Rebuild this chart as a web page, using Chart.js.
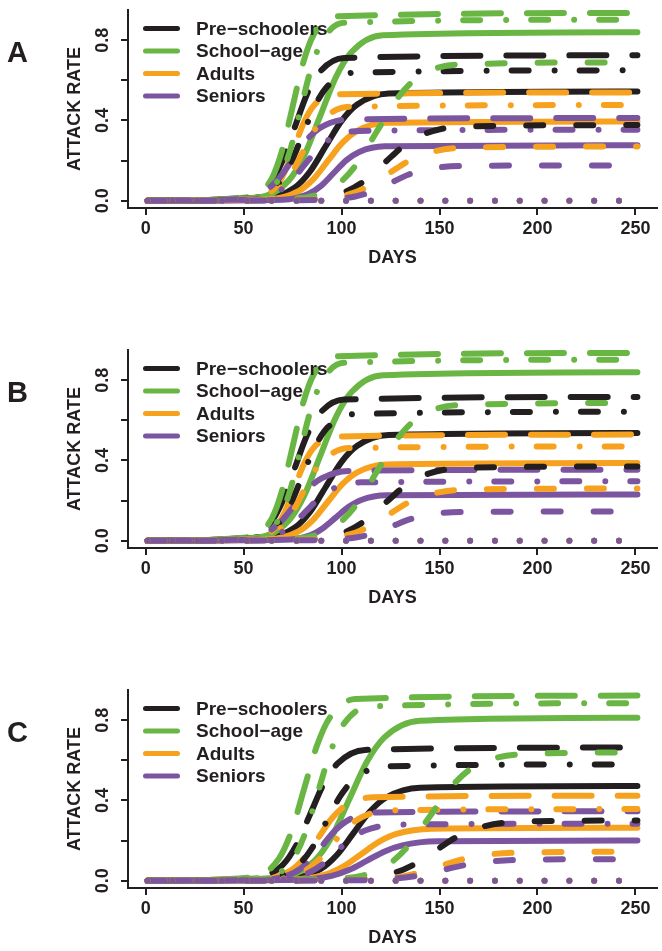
<!DOCTYPE html>
<html>
<head>
<meta charset="utf-8">
<script src="https://cdn.jsdelivr.net/npm/chart.js@4.4.1/dist/chart.umd.min.js"></script>
<style>
  html, body { margin: 0; padding: 0; background: #fff; width: 662px; height: 951px; overflow: hidden; }
  canvas { position: absolute; left: 0; }
</style>
</head>
<body>
<canvas id="panelA" width="662" height="340" style="top:0px"></canvas>
<canvas id="panelB" width="662" height="340" style="top:340px"></canvas>
<canvas id="panelC" width="662" height="340" style="top:680px"></canvas>
<script>
// groups / legend
const groupNames = ['Pre\u2212schoolers', 'School\u2212age', 'Adults', 'Seniors'];
const groupColors = ['#231f20', '#6ab644', '#f7a21e', '#7c55a0'];
const lineStyles = ['solid', 'longdash', 'dotdash', 'dashed', 'dotted'];
const dashPatterns = [[], [37, 26], [0.01, 25, 17, 26], [17, 33], [0.01, 24.8]];

// axes
const xTicks = [0, 50, 100, 150, 200, 250];
const yTicks = [0, 0.2, 0.4, 0.6, 0.8];
const yTickLabels = ['0.0', '', '0.4', '', '0.8'];

// dotted scenario stays at zero
const zeroLine = [[1, 0], [251, 0]];

// ---- panel A  [day, attack rate]
const aPreSolid = [[1,0],[60,.010],[76,.065],[84,.147],[92,.273],[100,.398],[108,.480],[124,.535],[251,.545]];
const aSchSolid = [[1,0],[57,.015],[73,.100],[81,.226],[89,.420],[97,.614],[105,.740],[121,.825],[251,.84]];
const aAduSolid = [[1,0],[63,.007],[78,.047],[85.5,.106],[93,.198],[100.5,.289],[108,.348],[123,.388],[251,.395]];
const aSenSolid = [[1,0],[70,.005],[83,.033],[89.5,.074],[96,.138],[102.5,.202],[109,.243],[122,.271],[251,.276]];
const aPreLong = [[1,0],[51,.013],[63.4,.086],[69.7,.195],[76,.363],[82.3,.530],[88.6,.639],[101.2,.712],[251,.725]];
const aSchLong = [[1,0],[53.8,.017],[64.4,.111],[69.7,.252],[75,.468],[80.3,.684],[85.6,.825],[96.2,.919],[251,.936]];
const aAduLong = [[1,0],[56,.010],[66,.064],[71,.145],[76,.270],[81,.395],[86,.476],[96,.530],[251,.54]];
const aSenLong = [[1,0],[47,.007],[61,.049],[68,.111],[75,.206],[82,.301],[89,.363],[103,.405],[251,.412]];
const aPreDotdash = [[1,0],[54,.012],[67,.077],[73.5,.175],[80,.325],[86.5,.475],[93,.573],[106,.638],[251,.65]];
const aSchDotdash = [[1,0],[57,.016],[68,.107],[73.5,.243],[79,.452],[84.5,.660],[90,.796],[101,.887],[251,.903]];
const aAduDotdash = [[1,0],[56,.009],[68,.057],[74,.128],[80,.239],[86,.349],[92,.420],[104,.468],[251,.477]];
const aSenDotdash = [[1,0],[53,.006],[67,.042],[74,.095],[81,.177],[88,.259],[95,.312],[109,.348],[251,.354]];
const aPreDash = [[1,0],[82,.007],[102,.045],[112,.101],[122,.189],[132,.276],[142,.332],[162,.370],[251,.377]];
const aSchDash = [[1,0],[78,.012],[98,.082],[108,.186],[118,.345],[128,.504],[138,.608],[158,.678],[251,.69]];
const aAduDash = [[1,0],[84,.005],[104,.032],[114,.073],[124,.135],[134,.197],[144,.238],[164,.265],[251,.27]];
const aSenDash = [[1,0],[89,.003],[107,.021],[116,.047],[125,.088],[134,.129],[143,.155],[161,.173],[251,.176]];

// ---- panel B
const bPreSolid = [[1,0],[60,.010],[76,.064],[84,.144],[92,.269],[100,.393],[108,.473],[124,.527],[251,.537]];
const bSchSolid = [[1,0],[57,.015],[73,.100],[81,.226],[89,.420],[97,.614],[105,.740],[121,.825],[251,.84]];
const bAduSolid = [[1,0],[63,.007],[78,.046],[85.5,.104],[93,.194],[100.5,.283],[108,.341],[123,.380],[251,.387]];
const bSenSolid = [[1,0],[71,.004],[84,.027],[90.5,.062],[97,.115],[103.5,.168],[110,.203],[123,.226],[251,.23]];
const bPreLong = [[1,0],[51,.013],[63.4,.085],[69.7,.193],[76,.359],[82.3,.524],[88.6,.632],[101.2,.704],[251,.717]];
const bSchLong = [[1,0],[53.8,.017],[64.4,.111],[69.7,.252],[75,.468],[80.3,.684],[85.6,.825],[96.2,.919],[251,.936]];
const bAduLong = [[1,0],[56,.010],[66,.063],[71,.142],[76,.265],[81,.387],[86,.466],[96,.519],[251,.529]];
const bSenLong = [[1,0],[48,.006],[62,.042],[69,.095],[76,.177],[83,.259],[90,.312],[104,.348],[251,.354]];
const bPreDotdash = [[1,0],[54,.012],[67,.077],[73.5,.173],[80,.322],[86.5,.470],[93,.566],[106,.631],[251,.643]];
const bSchDotdash = [[1,0],[57,.016],[68,.107],[73.5,.243],[79,.452],[84.5,.660],[90,.796],[101,.887],[251,.903]];
const bAduDotdash = [[1,0],[56,.008],[68,.056],[74,.126],[80,.235],[86,.344],[92,.414],[104,.462],[251,.47]];
const bSenDotdash = [[1,0],[54,.005],[68,.035],[75,.080],[82,.148],[89,.216],[96,.261],[110,.291],[251,.296]];
const bPreDash = [[1,0],[82,.007],[102,.044],[112,.100],[122,.185],[132,.270],[142,.326],[162,.363],[251,.37]];
const bSchDash = [[1,0],[78,.012],[98,.082],[108,.185],[118,.344],[128,.502],[138,.605],[158,.675],[251,.687]];
const bAduDash = [[1,0],[84,.005],[104,.031],[114,.070],[124,.130],[134,.190],[144,.229],[164,.255],[251,.26]];
const bSenDash = [[1,0],[90,.003],[108,.017],[117,.039],[126,.073],[135,.107],[144,.129],[162,.143],[251,.146]];

// ---- panel C
const cPreSolid = [[1,0],[72,.008],[89,.056],[97.5,.127],[106,.236],[114.5,.345],[123,.416],[140,.464],[251,.472]];
const cSchSolid = [[1,0],[68,.015],[86,.097],[95,.219],[104,.407],[113,.594],[122,.716],[140,.798],[251,.813]];
const cAduSolid = [[1,0],[74,.005],[92,.031],[101,.071],[110,.132],[119,.193],[128,.233],[146,.259],[251,.264]];
const cSenSolid = [[1,0],[77,.004],[95,.024],[104,.054],[113,.100],[122,.146],[131,.176],[149,.196],[251,.20]];
const cPreLong = [[1,0],[56,.012],[70,.079],[77,.179],[84,.332],[91,.485],[98,.585],[112,.652],[251,.664]];
const cSchLong = [[1,0],[55,.017],[68,.110],[74.5,.248],[81,.462],[87.5,.675],[94,.813],[107,.906],[251,.923]];
const cAduLong = [[1,0],[60,.008],[74,.050],[81,.114],[88,.212],[95,.310],[102,.374],[116,.416],[251,.424]];
const cSenLong = [[1,0],[62,.006],[76,.041],[83,.093],[90,.173],[97,.253],[104,.305],[118,.340],[251,.346]];
const cPreDotdash = [[1,0],[62,.010],[77,.069],[84.5,.156],[92,.290],[99.5,.424],[107,.511],[122,.570],[251,.58]];
const cSchDotdash = [[1,0],[62,.016],[75,.105],[81.5,.238],[88,.443],[94.5,.647],[101,.780],[114,.869],[251,.885]];
const cAduDotdash = [[1,0],[65,.006],[80,.042],[87.5,.096],[95,.179],[102.5,.261],[110,.315],[125,.351],[251,.357]];
const cSenDotdash = [[1,0],[67,.005],[82,.034],[89.5,.076],[97,.142],[104.5,.208],[112,.250],[127,.279],[251,.284]];
const cPreDash = [[1,0],[104,.005],[126,.036],[137,.081],[148,.150],[159,.219],[170,.264],[192,.295],[251,.30]];
const cSchDash = [[1,0],[101,.012],[123,.076],[134,.172],[145,.320],[156,.468],[167,.564],[189,.628],[251,.64]];
const cAduDash = [[1,0],[106,.003],[128,.017],[139,.039],[150,.072],[161,.105],[172,.127],[194,.141],[251,.144]];
const cSenDash = [[1,0],[108,.002],[130,.013],[141,.029],[152,.054],[163,.078],[174,.094],[196,.105],[251,.107]];

const textColor = '#231f20';
const fontFamily = '"Liberation Sans", Arial, Helvetica, sans-serif';

// panel letter + legend drawn inside the plot
const panelDecor = {
  id: 'panelDecor',
  afterDatasetsDraw(chart, args, opts) {
    const ctx = chart.ctx;
    const area = chart.chartArea;
    ctx.save();
    ctx.fillStyle = textColor;
    ctx.textBaseline = 'middle';
    ctx.textAlign = 'center';
    ctx.font = 'bold 29px ' + fontFamily;
    ctx.fillText(opts.letter, 17.5, 54);

    ctx.textAlign = 'left';
    ctx.font = 'bold 19px ' + fontFamily;
    groupNames.forEach((name, i) => {
      const y = area.top + 18.5 + i * 22.5;
      ctx.strokeStyle = groupColors[i];
      ctx.lineWidth = 5;
      ctx.lineCap = 'round';
      ctx.beginPath();
      ctx.moveTo(area.left + 17.5, y);
      ctx.lineTo(area.left + 49.5, y);
      ctx.stroke();
      ctx.fillText(name, area.left + 68, y + 1);
    });
    ctx.restore();
  }
};

// keep the plot box fixed: no extra room for overhanging labels
function fixPadding(s) {
  s.paddingTop = 0;
  s.paddingBottom = 0;
  s.paddingLeft = 0;
  s.paddingRight = 0;
}

function makeChart(canvasId, letter, curves) {
  const datasets = [];
  lineStyles.forEach((style, si) => {
    groupNames.forEach((name, gi) => {
      datasets.push({
        label: name + ' ' + style,
        data: style === 'dotted' ? zeroLine : curves[si][gi],
        borderColor: groupColors[gi],
        borderWidth: 6,
        borderDash: dashPatterns[si],
        borderCapStyle: 'round',
        borderJoinStyle: 'round',
        cubicInterpolationMode: 'monotone',
        pointRadius: 0,
        fill: false
      });
    });
  });
  // first dataset is painted on top in Chart.js, so reverse the drawing order
  datasets.reverse();

  const tickFont = { family: fontFamily, size: 18, weight: 'bold' };

  new Chart(document.getElementById(canvasId), {
    type: 'line',
    data: { datasets },
    options: {
      responsive: false,
      animation: false,
      devicePixelRatio: 1,
      layout: { padding: { left: 10, right: 5, top: 10, bottom: 10 } },
      plugins: {
        legend: { display: false },
        tooltip: { enabled: false },
        panelDecor: { letter: letter }
      },
      scales: {
        x: {
          type: 'linear',
          min: -9,
          max: 261,
          afterBuildTicks: s => { s.ticks = xTicks.map(v => ({ value: v })); },
          afterFit: s => { s.height = 122; fixPadding(s); },
          grid: { drawOnChartArea: false, drawTicks: true, tickLength: 7, tickColor: textColor, lineWidth: 2 },
          border: { display: true, color: textColor, width: 2 },
          ticks: { color: textColor, font: tickFont, padding: 3, maxRotation: 0, autoSkip: false },
          title: { display: true, text: 'DAYS', color: textColor, font: tickFont, padding: { top: 0, bottom: 61 } }
        },
        y: {
          type: 'linear',
          min: -0.0366,
          max: 0.951,
          afterBuildTicks: s => { s.ticks = yTicks.map(v => ({ value: v })); },
          afterFit: s => { s.width = 118; fixPadding(s); },
          grid: { drawOnChartArea: false, drawTicks: true, tickLength: 7, tickColor: textColor, lineWidth: 2 },
          border: { display: true, color: textColor, width: 2 },
          ticks: {
            color: textColor, font: tickFont, autoSkip: false,
            minRotation: 90, maxRotation: 90, crossAlign: 'center', padding: 5,
            callback: (v, i) => yTickLabels[i]
          },
          title: { display: true, text: 'ATTACK RATE', color: textColor, font: tickFont, padding: { top: 54, bottom: 0 } }
        }
      }
    },
    plugins: [panelDecor]
  });
}

makeChart('panelA', 'A', [
  [aPreSolid, aSchSolid, aAduSolid, aSenSolid],
  [aPreLong, aSchLong, aAduLong, aSenLong],
  [aPreDotdash, aSchDotdash, aAduDotdash, aSenDotdash],
  [aPreDash, aSchDash, aAduDash, aSenDash]
]);
makeChart('panelB', 'B', [
  [bPreSolid, bSchSolid, bAduSolid, bSenSolid],
  [bPreLong, bSchLong, bAduLong, bSenLong],
  [bPreDotdash, bSchDotdash, bAduDotdash, bSenDotdash],
  [bPreDash, bSchDash, bAduDash, bSenDash]
]);
makeChart('panelC', 'C', [
  [cPreSolid, cSchSolid, cAduSolid, cSenSolid],
  [cPreLong, cSchLong, cAduLong, cSenLong],
  [cPreDotdash, cSchDotdash, cAduDotdash, cSenDotdash],
  [cPreDash, cSchDash, cAduDash, cSenDash]
]);
</script>
</body>
</html>
